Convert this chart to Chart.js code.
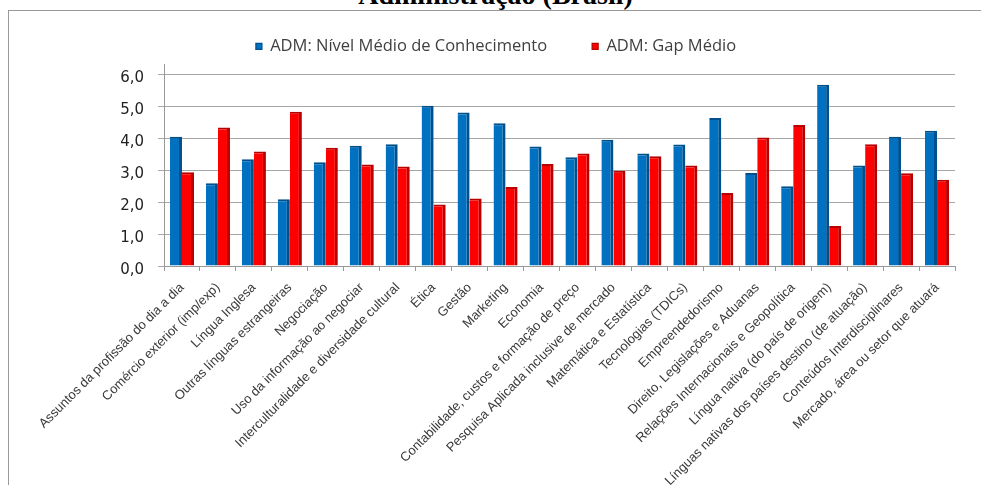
<!DOCTYPE html>
<html>
<head>
<meta charset="utf-8">
<script src="https://cdn.jsdelivr.net/npm/chart.js@4/dist/chart.umd.min.js"></script>
<style>
  html, body { margin: 0; padding: 0; background: #fff; overflow: hidden; }
  body { width: 981px; height: 485px; position: relative; }
  #titulo {
    position: absolute; left: 0; top: -19px; width: 991px;
    text-align: center; font: bold 28px "Liberation Serif", serif; line-height: 28px; color: #000;
  }
  #moldura {
    position: absolute; left: 8px; top: 10px; width: 990px; height: 490px;
    border-top: 1px solid #999; border-left: 1px solid #999;
  }
  #grafico { position: absolute; left: 9px; top: 11px; }
</style>
</head>
<body>
<div id="titulo">Administração (Brasil)</div>
<div id="moldura"></div>
<canvas id="grafico" width="972" height="474"></canvas>
<script>
// Categorias (eixo X)
const categorias = [
    'Assuntos da profissão do dia a dia',
    'Comércio exterior (imp/exp)',
    'Língua Inglesa',
    'Outras línguas estrangeiras',
    'Negociação',
    'Uso da informação ao negociar',
    'Interculturalidade e diversidade cultural',
    'Ética',
    'Gestão',
    'Marketing',
    'Economia',
    'Contabilidade, custos e formação de preço',
    'Pesquisa Aplicada inclusive de mercado',
    'Matemática e Estatística',
    'Tecnologias (TDICs)',
    'Empreendedorismo',
    'Direito, Legislações e Aduanas',
    'Relações Internacionais e Geopolítica',
    'Língua nativa (do país de origem)',
    'Línguas nativas dos países destino (de atuação)',
    'Conteúdos Interdisciplinares',
    'Mercado, área ou setor que atuará'
];

// Séries
const nivelMedio = [4.04, 2.59, 3.34, 2.09, 3.24, 3.76, 3.81, 5.01, 4.80, 4.46, 3.74,
                    3.40, 3.95, 3.52, 3.80, 4.63, 2.91, 2.49, 5.67, 3.14, 4.04, 4.23];
const gapMedio = [2.93, 4.33, 3.58, 4.82, 3.70, 3.17, 3.11, 1.92, 2.11, 2.47, 3.19,
                  3.52, 2.98, 3.43, 3.14, 2.28, 4.02, 4.41, 1.25, 3.81, 2.90, 2.70];

const nomesSeries = ['ADM: Nível Médio de Conhecimento', 'ADM: Gap Médio'];

// Rótulos do eixo Y
const rotulosY = ['0,0', '1,0', '2,0', '3,0', '4,0', '5,0', '6,0'];

const ctx = document.getElementById('grafico').getContext('2d');

new Chart(ctx, {
    type: 'bar',
    data: {
        labels: categorias,
        datasets: [
            {
                label: nomesSeries[0],
                data: nivelMedio,
                backgroundColor: '#0070c0',
                borderColor: '#00508c',
                borderWidth: { top: 2, right: 3, bottom: 0, left: 0 },
                borderSkipped: false
            },
            {
                label: nomesSeries[1],
                data: gapMedio,
                backgroundColor: '#ff0000',
                borderColor: '#b80000',
                borderWidth: { top: 2, right: 3, bottom: 0, left: 0 },
                borderSkipped: false
            }
        ]
    },
    options: {
        responsive: false,
        animation: false,
        datasets: {
            bar: { categoryPercentage: 0.67, barPercentage: 1.0 }
        },
        // padding esquerdo só para centralizar a legenda como no original
        layout: { padding: { top: -18, right: 26, bottom: 0, left: 28 } },
        plugins: {
            legend: {
                position: 'top',
                labels: {
                    boxWidth: 6,
                    boxHeight: 6,
                    padding: 45,
                    color: '#404040',
                    font: { family: '"Open Sans", sans-serif', size: 16.5 }
                }
            },
            tooltip: { enabled: false }
        },
        scales: {
            x: {
                grid: { offset: true, drawOnChartArea: false, tickLength: 5, color: '#999' },
                border: { color: '#999' },
                ticks: {
                    autoSkip: false,
                    minRotation: 45,
                    maxRotation: 45,
                    padding: 9,
                    color: '#3a3a3a',
                    font: { family: '"Liberation Sans", Arial, sans-serif', size: 13 }
                },
                afterFit: (s) => { s.height = 219; }
            },
            y: {
                min: 0,
                max: 6.3,
                grid: { color: '#a6a6a6', tickLength: 6 },
                border: { color: '#999' },
                ticks: {
                    stepSize: 1,
                    includeBounds: false,
                    padding: 14,
                    labelOffset: 4,
                    color: '#222',
                    font: { family: '"DejaVu Sans", sans-serif', size: 15 },
                    callback: (v) => rotulosY[v]
                },
                afterFit: (s) => { s.width = 127; }
            }
        }
    }
});
</script>
</body>
</html>
